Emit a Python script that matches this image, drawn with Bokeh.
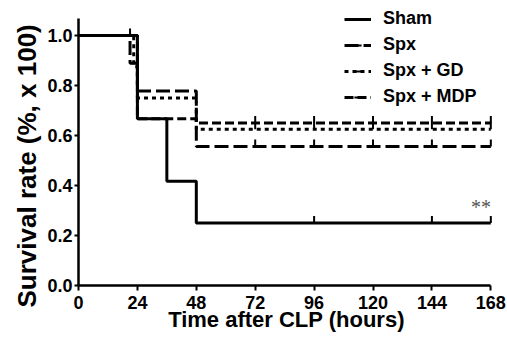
import numpy as np
from bokeh.plotting import figure
from bokeh.models import Range1d, FixedTicker, Legend, LegendItem, Label, Title
from bokeh.embed import file_html
from bokeh.resources import INLINE

# ---- data ----
x_ticks = [0, 24, 48, 72, 96, 120, 144, 168]
y_ticks = [0.0, 0.2, 0.4, 0.6, 0.8, 1.0]
y_tick_labels = ["0.0", "0.2", "0.4", "0.6", "0.8", "1.0"]

groups = ["Sham", "Spx", "Spx + GD", "Spx + MDP"]

sham_t = [0, 24, 36, 48, 168]
sham_s = [1.0, 0.667, 0.417, 0.25, 0.25]
sham_cens = [21, 96, 144, 168]

spx_t = [0, 21, 24, 48, 168]
spx_s = [1.0, 0.889, 0.778, 0.556, 0.556]
spx_cens = [72, 96, 120, 144, 168]

gd_t = [0, 22.5, 24, 48, 168]
gd_s = [1.0, 0.875, 0.75, 0.625, 0.625]
gd_cens = [72, 96, 120, 144, 168]

mdp_t = [0, 24, 48, 168]
mdp_s = [1.0, 0.667, 0.65, 0.65]
mdp_cens = [72, 96, 120, 144, 168]

annot_text = "**"
annot_x = 164
annot_y = 0.25

x_title = "Time after CLP (hours)"
y_title = "Survival rate (%, x 100)"

series = [
    (groups[0], sham_t, sham_s, sham_cens, "solid"),
    (groups[1], spx_t, spx_s, spx_cens, "14 5"),
    (groups[2], gd_t, gd_s, gd_cens, "4 4"),
    (groups[3], mdp_t, mdp_s, mdp_cens, "9 4"),
]

FONT = "Liberation Sans"

p = figure(width=507, height=342, output_backend="svg", toolbar_location=None,
           x_range=Range1d(0, 169.5), y_range=Range1d(0, 1.14),
           min_border_left=78, min_border_right=13, min_border_top=0,
           min_border_bottom=57)
p.outline_line_color = None
p.xgrid.visible = False
p.ygrid.visible = False
p.background_fill_color = "white"

items = []
for name, t, s, cens, dash in series:
    r = p.step(t, s, mode="after", line_color="black", line_width=3,
               line_dash=dash)
    idx = np.searchsorted(np.array(t), np.array(cens), side="right") - 1
    cy = np.array(s)[idx] + 0.014
    m = p.scatter(cens, cy, marker="dash", angle=np.pi / 2, size=7,
                  line_color="black", line_width=2)
    items.append(LegendItem(label=name, renderers=[r, m]))

legend = Legend(items=items, location=(266, 178), orientation="vertical",
                glyph_width=27, glyph_height=18, label_height=18,
                label_standoff=12, spacing=5, padding=0, margin=0,
                border_line_color=None, background_fill_alpha=0,
                label_text_font=FONT, label_text_font_style="bold",
                label_text_font_size="18px", label_text_color="black")
p.add_layout(legend)

p.add_layout(Label(x=annot_x, y=annot_y, text=annot_text, text_align="center",
                   text_baseline="bottom", y_offset=5,
                   text_font="Liberation Serif", text_font_size="20px",
                   text_color="#555555"))

p.add_layout(Title(text=y_title, align="left", offset=-22, standoff=5,
                   text_font=FONT, text_font_style="bold",
                   text_font_size="26px", text_color="black"), "left")

for ax in (p.xaxis[0], p.yaxis[0]):
    ax.axis_line_width = 2.5
    ax.axis_line_color = "black"
    ax.major_tick_line_width = 2
    ax.major_tick_line_color = "black"
    ax.major_tick_in = 0
    ax.minor_tick_line_color = None
    ax.major_label_text_font = FONT
    ax.major_label_text_font_style = "bold"
    ax.major_label_text_font_size = "18px"
    ax.major_label_text_color = "black"
    ax.axis_label_text_font = FONT
    ax.axis_label_text_font_style = "bold"
    ax.axis_label_text_color = "black"

xa = p.xaxis[0]
xa.ticker = FixedTicker(ticks=x_ticks)
xa.bounds = (0, 168)
xa.major_tick_out = 5
xa.major_label_standoff = 5
xa.axis_label = x_title
xa.axis_label_text_font_size = "22px"
xa.axis_label_standoff = -5

ya = p.yaxis[0]
ya.ticker = FixedTicker(ticks=y_ticks)
ya.bounds = (0, 1.068)
ya.major_label_overrides = {v: l for v, l in zip(y_ticks, y_tick_labels)}
ya.major_tick_out = 4
ya.major_label_standoff = 2

open("out.html", "w").write(file_html(p, INLINE))
